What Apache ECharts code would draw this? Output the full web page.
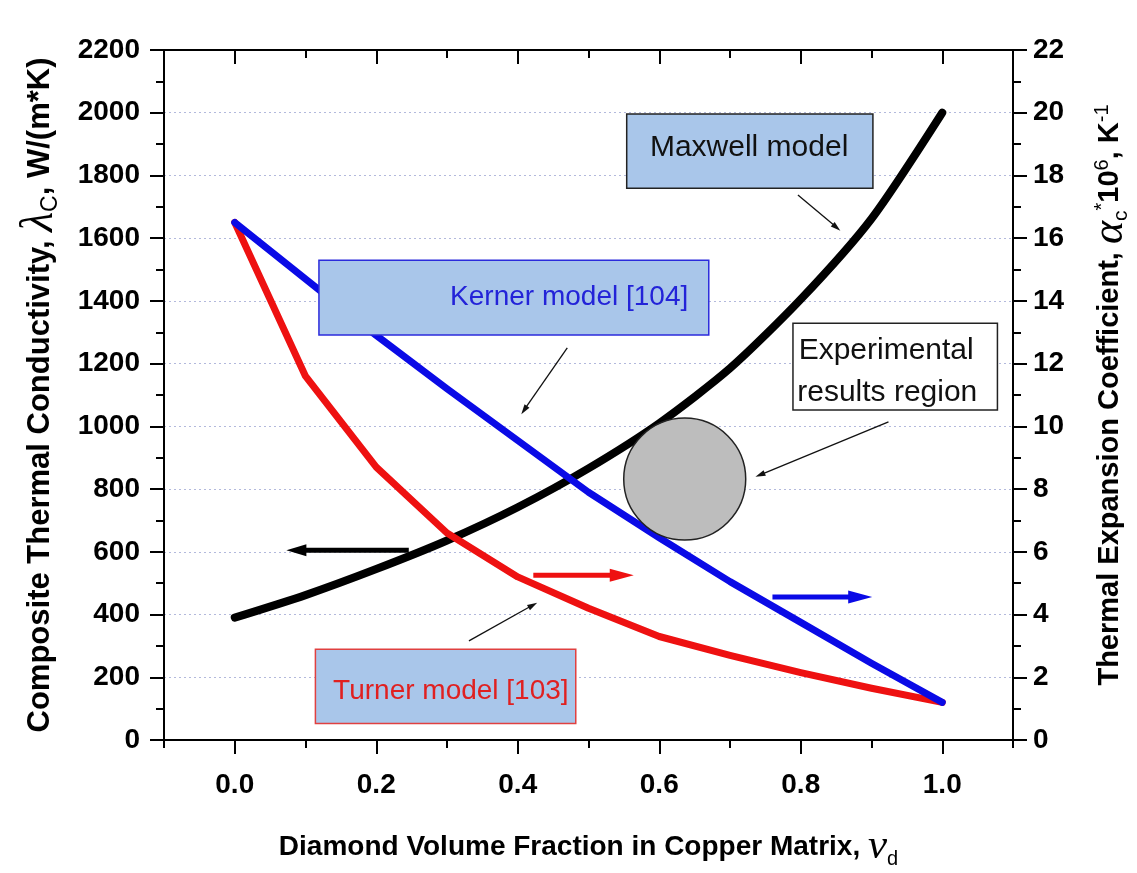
<!DOCTYPE html>
<html>
<head>
<meta charset="utf-8">
<script src="https://cdn.jsdelivr.net/npm/echarts@6/dist/echarts.min.js"></script>
<style>
  html, body { margin: 0; padding: 0; background: #fff; }
  #chart { width: 1137px; height: 873px; }
</style>
</head>
<body>
<div id="chart"></div>
<script>
// diamond volume fraction (x)
const xFrac = [0, 0.1, 0.2, 0.3, 0.4, 0.5, 0.6, 0.7, 0.8, 0.9, 1.0];
// Maxwell model, thermal conductivity W/(m*K) -> left axis
const maxwellK = [390, 462, 545, 636, 742, 866, 1010, 1185, 1405, 1662, 2000];
// Kerner model [104], CTE x10^6 1/K -> right axis
const kernerCTE = [16.5, 14.7, 12.9, 11.2, 9.55, 7.9, 6.45, 5.05, 3.75, 2.45, 1.2];
// Turner model [103], CTE x10^6 1/K -> right axis
const turnerCTE = [16.5, 11.6, 8.7, 6.6, 5.2, 4.2, 3.3, 2.7, 2.15, 1.65, 1.2];

const xLabelValues = [0, 0.2, 0.4, 0.6, 0.8, 1.0];
const xMinorValues = [-0.1, 0.1, 0.3, 0.5, 0.7, 0.9, 1.1];

const FONT = "'Liberation Sans', Arial, sans-serif";
const SERIF = "'Liberation Serif', 'DejaVu Serif', serif";

const chart = echarts.init(document.getElementById('chart'));

const pairs = ys => xFrac.map((x, i) => [x, ys[i]]);

const tickLabel = { fontFamily: FONT, fontWeight: 'bold', fontSize: 28, color: '#000' };
const axisLineStyle = { color: '#000', width: 2 };

function nameRich(size) {
  return {
    t: { fontFamily: FONT, fontWeight: 'bold', fontSize: size, lineHeight: 46, color: '#000' },
    g: { fontFamily: SERIF, fontStyle: 'italic', fontSize: size + 15, lineHeight: 46, color: '#000' },
    s: { fontFamily: FONT, fontSize: size - 8, lineHeight: size - 8, verticalAlign: 'bottom', padding: [0, 0, 1, 0], color: '#000' },
    sup: { fontFamily: FONT, fontSize: size - 9, lineHeight: size - 9, verticalAlign: 'top', padding: [5, 0, 0, 0], color: '#000' }
  };
}

function xAxisBase(pos, extra) {
  return Object.assign({
    type: 'value', position: pos, min: -0.1, max: 1.1,
    axisLine: { show: false, onZero: false },
    axisLabel: { show: false },
    splitLine: { show: false }
  }, extra);
}

const option = {
  animation: false,
  backgroundColor: '#fff',
  grid: { left: 164, right: 124, top: 50, bottom: 133, outerBoundsMode: 'none' },
  xAxis: [
    xAxisBase('bottom', {
      name: '{t|Diamond Volume Fraction in Copper Matrix, }{g|ν}{s|d}',
      nameLocation: 'middle', nameGap: 84,
      nameTextStyle: { rich: nameRich(28) },
      axisLine: { show: true, onZero: false, lineStyle: axisLineStyle },
      axisTick: { customValues: xLabelValues, length: 14, lineStyle: axisLineStyle },
      axisLabel: { show: true, customValues: xLabelValues, margin: 31, formatter: v => v.toFixed(1), ...tickLabel }
    }),
    xAxisBase('bottom', {
      axisTick: { customValues: xMinorValues, length: 8, lineStyle: axisLineStyle }
    }),
    xAxisBase('top', {
      axisLine: { show: true, onZero: false, lineStyle: axisLineStyle },
      axisTick: { inside: true, customValues: xLabelValues, length: 14, lineStyle: axisLineStyle }
    }),
    xAxisBase('top', {
      axisTick: { inside: true, customValues: xMinorValues, length: 8, lineStyle: axisLineStyle }
    })
  ],
  yAxis: [
    {
      type: 'value', position: 'left', min: 0, max: 2200, interval: 200,
      name: '{t|Composite Thermal Conductivity, }{g|λ}{s|C}{t|, W/(m*K)}',
      nameLocation: 'middle', nameRotate: 90, nameGap: 101,
      nameTextStyle: { rich: nameRich(31) },
      axisLine: { show: true, onZero: false, lineStyle: axisLineStyle },
      axisTick: { show: true, length: 14, lineStyle: axisLineStyle },
      minorTick: { show: true, splitNumber: 2, length: 8, lineStyle: axisLineStyle },
      axisLabel: { margin: 24, formatter: v => String(v), ...tickLabel },
      splitLine: { show: true, lineStyle: { type: [2, 3], color: '#b3b9dc', width: 1 } }
    },
    {
      type: 'value', position: 'right', min: 0, max: 22, interval: 2,
      name: '{t|Thermal Expansion Coefficient, }{g|α}{s|c}{sup|*}{t|10}{sup|6}{t|, K}{sup|-1}',
      nameLocation: 'middle', nameRotate: 90, nameGap: 74,
      nameTextStyle: { rich: nameRich(29) },
      axisLine: { show: true, onZero: false, lineStyle: axisLineStyle },
      axisTick: { show: true, length: 14, lineStyle: axisLineStyle },
      minorTick: { show: true, splitNumber: 2, length: 8, lineStyle: axisLineStyle },
      axisLabel: { margin: 20, formatter: v => String(v), ...tickLabel },
      splitLine: { show: false }
    }
  ],
  series: [
    {
      name: 'Maxwell model', type: 'line', xAxisIndex: 0, yAxisIndex: 0,
      data: pairs(maxwellK), showSymbol: false, smooth: 0.25,
      lineStyle: { color: '#000', width: 8, cap: 'round', join: 'round' }
    },
    {
      name: 'Turner model [103]', type: 'line', xAxisIndex: 0, yAxisIndex: 1,
      data: pairs(turnerCTE), showSymbol: false,
      lineStyle: { color: '#ee1111', width: 7, cap: 'round', join: 'round' }
    },
    {
      name: 'Kerner model [104]', type: 'line', xAxisIndex: 0, yAxisIndex: 1,
      data: pairs(kernerCTE), showSymbol: false,
      lineStyle: { color: '#0a0ae6', width: 7, cap: 'round', join: 'round' }
    }
  ]
};

chart.setOption(option);

// annotations, placed in data space (x fraction, left axis value)
const boxFill = '#a9c6ea';
const labelBoxes = [
  { from: [0.554, 1996], to: [0.902, 1759], fill: boxFill, stroke: '#222' },
  { from: [0.119, 1530], to: [0.670, 1291], fill: boxFill, stroke: '#2b2bdc' },
  { from: [0.789, 1329], to: [1.078, 1052], fill: '#fff', stroke: '#222' },
  { from: [0.114, 289], to: [0.482, 53], fill: boxFill, stroke: '#e04040' }
];
const labelTexts = [
  { text: 'Maxwell model', at: [0.727, 1887], align: 'center', color: '#111', size: 30 },
  { text: 'Kerner model [104]', at: [0.641, 1411], align: 'right', color: '#2323d8', size: 28 },
  { text: 'Experimental', at: [0.797, 1240], align: 'left', color: '#111', size: 30 },
  { text: 'results region', at: [0.795, 1106], align: 'left', color: '#111', size: 30 },
  { text: 'Turner model [103]', at: [0.139, 154], align: 'left', color: '#e02020', size: 28 }
];
const regionCircle = { at: [0.636, 832], r: 61 };
const arrows = [
  { from: [0.796, 1738], to: [0.856, 1624], color: '#111', w: 1.3, head: 10, hw: 6 },
  { from: [0.470, 1250], to: [0.405, 1039], color: '#111', w: 1.3, head: 10, hw: 6 },
  { from: [0.924, 1014], to: [0.736, 839], color: '#111', w: 1.3, head: 10, hw: 6 },
  { from: [0.331, 316], to: [0.4275, 438], color: '#111', w: 1.3, head: 10, hw: 6 },
  { from: [0.246, 605], to: [0.073, 605], color: '#000', w: 5, head: 20, hw: 12 },
  { from: [0.422, 525], to: [0.564, 525], color: '#ee1111', w: 5, head: 24, hw: 13 },
  { from: [0.760, 456], to: [0.901, 456], color: '#0a0ae6', w: 5, head: 24, hw: 13 }
];

function toPx(p) {
  return chart.convertToPixel({ xAxisIndex: 0, yAxisIndex: 0 }, p);
}

function arrowShapes(a, b, w, headL, headW, color) {
  const dx = b[0] - a[0], dy = b[1] - a[1];
  const L = Math.hypot(dx, dy);
  const ux = dx / L, uy = dy / L;
  const bx = b[0] - ux * headL, by = b[1] - uy * headL;
  const nx = -uy, ny = ux;
  return [
    { type: 'line', z: 100, shape: { x1: a[0], y1: a[1], x2: bx + ux, y2: by + uy },
      style: { stroke: color, lineWidth: w } },
    { type: 'polygon', z: 100,
      shape: { points: [[b[0], b[1]], [bx + nx * headW / 2, by + ny * headW / 2], [bx - nx * headW / 2, by - ny * headW / 2]] },
      style: { fill: color } }
  ];
}

const graphics = [];
labelBoxes.forEach(b => {
  const p0 = toPx(b.from), p1 = toPx(b.to);
  graphics.push({
    type: 'rect', z: 100,
    shape: { x: p0[0], y: p0[1], width: p1[0] - p0[0], height: p1[1] - p0[1] },
    style: { fill: b.fill, stroke: b.stroke, lineWidth: 1.5 }
  });
});
labelTexts.forEach(t => {
  const p = toPx(t.at);
  graphics.push({
    type: 'text', z: 101, x: p[0], y: p[1],
    style: { text: t.text, fill: t.color, fontFamily: FONT, fontSize: t.size, align: t.align, verticalAlign: 'middle' }
  });
});
const c = toPx(regionCircle.at);
graphics.push({
  type: 'circle', z: 100,
  shape: { cx: c[0], cy: c[1], r: regionCircle.r },
  style: { fill: '#bdbdbd', stroke: '#222', lineWidth: 1.5 }
});
arrows.forEach(a => {
  graphics.push(...arrowShapes(toPx(a.from), toPx(a.to), a.w, a.head, a.hw, a.color));
});

chart.setOption({ graphic: graphics });
</script>
</body>
</html>
